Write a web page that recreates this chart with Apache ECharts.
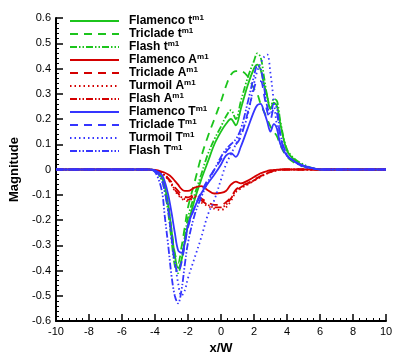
<!DOCTYPE html>
<html>
<head>
<meta charset="utf-8">
<script src="https://cdn.jsdelivr.net/npm/echarts@6/dist/echarts.min.js"></script>
<style>
html,body{margin:0;padding:0;background:#fff;}
#chart{width:407px;height:362px;}
</style>
</head>
<body>
<div id="chart"></div>
<script>
// x/W sample positions shared by all curves
var xs = [-10, -4.4, -4, -3.6, -3.4, -3.2, -3, -2.8, -2.6, -2.4, -2.2, -2, -1.6, -1.2, -0.8, -0.4, 0, 0.3, 0.6, 0.9, 1.2, 1.6, 2, 2.2, 2.4, 2.6, 2.8, 3, 3.2, 3.4, 3.6, 4, 4.5, 5, 5.5, 6, 10];

var flamencoT1 = [0, 0, -0.005, -0.03, -0.07, -0.14, -0.24, -0.34, -0.39, -0.36, -0.29, -0.22, -0.12, -0.04, 0.03, 0.10, 0.15, 0.18, 0.20, 0.175, 0.24, 0.33, 0.40, 0.415, 0.395, 0.34, 0.29, 0.24, 0.265, 0.25, 0.18, 0.075, 0.035, 0.015, 0.005, 0, 0];
var tricladeT1 = [0, 0, -0.005, -0.03, -0.07, -0.14, -0.24, -0.33, -0.37, -0.31, -0.23, -0.15, -0.05, 0.05, 0.13, 0.2, 0.27, 0.33, 0.375, 0.39, 0.39, 0.37, 0.32, 0.3, 0.26, 0.23, 0.2, 0.17, 0.15, 0.13, 0.095, 0.05, 0.025, 0.012, 0.005, 0, 0];
var flashT1 = [0, 0, -0.008, -0.04, -0.09, -0.17, -0.28, -0.38, -0.41, -0.36, -0.27, -0.19, -0.1, -0.02, 0.06, 0.12, 0.17, 0.21, 0.235, 0.2, 0.27, 0.36, 0.43, 0.46, 0.445, 0.37, 0.29, 0.24, 0.28, 0.27, 0.19, 0.08, 0.04, 0.02, 0.006, 0, 0];

var flamencoA = [0, 0, -0.002, -0.008, -0.013, -0.02, -0.03, -0.045, -0.06, -0.077, -0.085, -0.085, -0.072, -0.066, -0.082, -0.095, -0.093, -0.085, -0.06, -0.048, -0.055, -0.045, -0.03, -0.022, -0.015, -0.01, -0.006, -0.003, -0.002, -0.001, 0, 0, 0, 0, 0, 0, 0];
var tricladeA = [0, 0, -0.003, -0.012, -0.02, -0.035, -0.05, -0.07, -0.085, -0.1, -0.108, -0.11, -0.1, -0.115, -0.13, -0.14, -0.14, -0.13, -0.11, -0.08, -0.065, -0.055, -0.04, -0.033, -0.026, -0.02, -0.014, -0.009, -0.005, -0.003, -0.001, 0, 0, 0, 0, 0, 0];
var turmoilA = [0, 0, -0.004, -0.015, -0.025, -0.04, -0.06, -0.085, -0.1, -0.115, -0.122, -0.125, -0.11, -0.13, -0.145, -0.155, -0.16, -0.15, -0.125, -0.09, -0.075, -0.06, -0.045, -0.037, -0.03, -0.022, -0.016, -0.01, -0.006, -0.003, -0.001, 0, 0, 0, 0, 0, 0];
var flashA = [0, 0, -0.004, -0.014, -0.023, -0.037, -0.055, -0.08, -0.095, -0.11, -0.117, -0.12, -0.105, -0.122, -0.14, -0.15, -0.15, -0.14, -0.115, -0.085, -0.07, -0.058, -0.043, -0.035, -0.028, -0.021, -0.015, -0.01, -0.006, -0.003, -0.001, 0, 0, 0, 0, 0, 0];

var flamencoT = [0, 0, -0.003, -0.02, -0.05, -0.1, -0.17, -0.25, -0.32, -0.33, -0.29, -0.22, -0.15, -0.095, -0.055, -0.02, 0.02, 0.055, 0.065, 0.05, 0.09, 0.16, 0.23, 0.255, 0.26, 0.23, 0.19, 0.15, 0.18, 0.16, 0.1, 0.055, 0.03, 0.015, 0.006, 0, 0];
var tricladeT = [0, 0, -0.005, -0.04, -0.09, -0.16, -0.27, -0.37, -0.41, -0.37, -0.3, -0.23, -0.15, -0.09, -0.04, 0.0, 0.04, 0.07, 0.09, 0.1, 0.13, 0.22, 0.32, 0.35, 0.35, 0.3, 0.23, 0.2, 0.24, 0.22, 0.13, 0.055, 0.028, 0.012, 0.005, 0, 0];
var turmoilT = [0, 0, -0.005, -0.04, -0.09, -0.15, -0.25, -0.36, -0.45, -0.5, -0.48, -0.43, -0.35, -0.27, -0.18, -0.12, -0.04, 0.02, 0.06, 0.1, 0.14, 0.21, 0.34, 0.39, 0.42, 0.445, 0.455, 0.38, 0.27, 0.17, 0.105, 0.055, 0.03, 0.01, 0.004, 0, 0];
var flashT = [0, 0, -0.01, -0.08, -0.19, -0.3, -0.42, -0.5, -0.53, -0.48, -0.38, -0.29, -0.18, -0.11, -0.05, 0.0, 0.05, 0.08, 0.1, 0.12, 0.16, 0.26, 0.37, 0.41, 0.4, 0.33, 0.25, 0.22, 0.26, 0.24, 0.14, 0.06, 0.03, 0.012, 0.005, 0, 0];

var GREEN = '#1cc41c', RED = '#d40000', BLUE = '#3535ff';
var DASH = [8, 6], DOT = [1.5, 3], DASHDOT = [7, 2, 1.5, 2, 1.5, 2];

function pairs(ys) {
    var out = [];
    for (var i = 0; i < xs.length; i++) out.push([xs[i], ys[i]]);
    return out;
}

function line(name, ys, color, dash) {
    return {
        name: name,
        type: 'line',
        data: pairs(ys),
        showSymbol: false,
        symbol: 'none',
        smooth: 0.35,
        lineStyle: {color: color, width: 1.8, type: dash || 'solid'},
        itemStyle: {color: color}
    };
}

var myChart = echarts.init(document.getElementById('chart'));
var option = {
    animation: false,
    backgroundColor: '#fff',
    grid: {left: 53, right: 21, top: 18, bottom: 41},
    legend: {
        orient: 'vertical',
        left: 64,
        top: 9,
        itemWidth: 49,
        itemHeight: 12,
        itemGap: -1,
        itemStyle: {opacity: 0},
        textStyle: {
            fontFamily: 'Liberation Sans',
            fontSize: 12,
            lineHeight: 14,
            fontWeight: 'bold',
            color: '#000',
            padding: [0, 0, 0, 5],
            rich: {
                s: {fontFamily: 'Liberation Sans', fontSize: 8, lineHeight: 8, fontWeight: 'bold', color: '#000', verticalAlign: 'top'}
            }
        },
        formatter: function (name) { return name + '{s|m1}'; }
    },
    xAxis: {
        type: 'value',
        min: -10, max: 10, interval: 2,
        name: 'x/W', nameLocation: 'middle', nameGap: 20,
        nameTextStyle: {fontFamily: 'Liberation Sans', fontSize: 13, fontWeight: 'bold', color: '#000'},
        axisLine: {onZero: false, lineStyle: {color: '#000', width: 2}},
        axisTick: {inside: true, length: 7, lineStyle: {color: '#000', width: 1.5}},
        minorTick: {show: true, splitNumber: 5, length: 3, lineStyle: {color: '#000', width: 1}},
        axisLabel: {fontFamily: 'Liberation Sans', fontSize: 11, color: '#000', margin: 5},
        splitLine: {show: false}
    },
    yAxis: {
        type: 'value',
        min: -0.6, max: 0.6, interval: 0.1,
        name: 'Magnitude', nameLocation: 'middle', nameGap: 35, nameRotate: 90,
        nameTextStyle: {fontFamily: 'Liberation Sans', fontSize: 13, fontWeight: 'bold', color: '#000'},
        axisLine: {onZero: false, lineStyle: {color: '#000', width: 2}},
        axisTick: {inside: true, length: 7, lineStyle: {color: '#000', width: 1.5}},
        minorTick: {show: true, splitNumber: 5, length: 3, lineStyle: {color: '#000', width: 1}},
        axisLabel: {
            fontFamily: 'Liberation Sans', fontSize: 11, color: '#000', margin: 5,
            formatter: function (v) { return String(Math.round(v * 10) / 10); }
        },
        splitLine: {show: false}
    },
    series: [
        line('Flamenco t', flamencoT1, GREEN),
        line('Triclade t', tricladeT1, GREEN, DASH),
        line('Flash t', flashT1, GREEN, DASHDOT),
        line('Flamenco A', flamencoA, RED),
        line('Triclade A', tricladeA, RED, DASH),
        line('Turmoil A', turmoilA, RED, DOT),
        line('Flash A', flashA, RED, DASHDOT),
        line('Flamenco T', flamencoT, BLUE),
        line('Triclade T', tricladeT, BLUE, DASH),
        line('Turmoil T', turmoilT, BLUE, DOT),
        line('Flash T', flashT, BLUE, DASHDOT)
    ]
};
myChart.setOption(option);
</script>
</body>
</html>
